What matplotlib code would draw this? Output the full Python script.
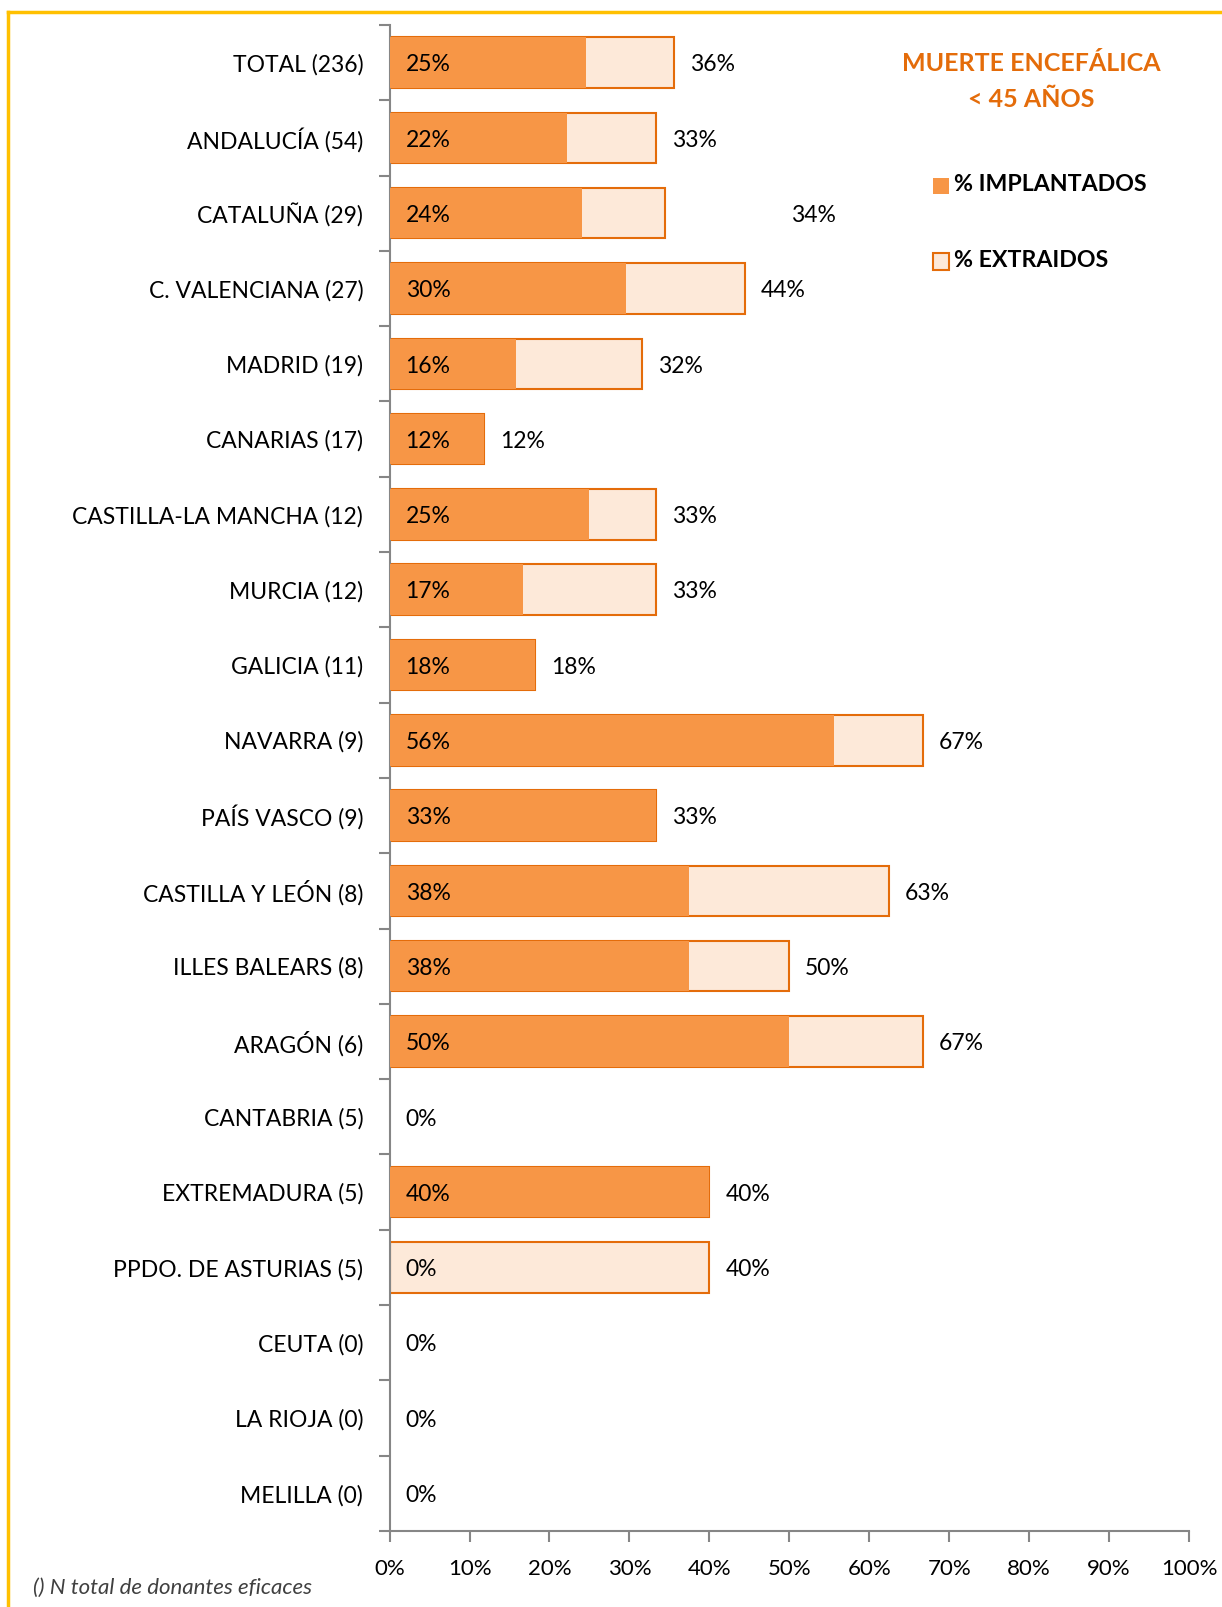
import matplotlib
matplotlib.use("Agg")
import matplotlib.pyplot as plt
import numpy as np

# datos (porcentajes)
regiones = ["TOTAL (236)", "ANDALUCÍA (54)", "CATALUÑA (29)", "C. VALENCIANA (27)",
            "MADRID (19)", "CANARIAS (17)", "CASTILLA-LA MANCHA (12)", "MURCIA (12)",
            "GALICIA (11)", "NAVARRA (9)", "PAÍS VASCO (9)", "CASTILLA Y LEÓN (8)",
            "ILLES BALEARS (8)", "ARAGÓN (6)", "CANTABRIA (5)", "EXTREMADURA (5)",
            "PPDO. DE ASTURIAS (5)", "CEUTA (0)", "LA RIOJA (0)", "MELILLA (0)"]
implantados = [24.6, 22.2, 24.1, 29.6, 15.8, 11.8, 25.0, 16.7, 18.2, 55.6,
               33.3, 37.5, 37.5, 50.0, 0, 40.0, 0, 0, 0, 0]
extraidos = [35.6, 33.3, 34.4, 44.4, 31.6, 11.8, 33.3, 33.3, 18.2, 66.7,
             33.3, 62.5, 50.0, 66.7, 0, 40.0, 40.0, 0, 0, 0]

naranja = "#F79646"
claro = "#FDE9D9"
borde = "#E46C0A"
fuente = "Lato"

plt.rcParams['font.family'] = [fuente, 'DejaVu Sans']

def pct(v):
    return "%d%%" % int(v + 0.5)

fig = plt.figure(figsize=(12.22, 16.07), dpi=100)
ax = fig.add_axes([0.3188, 0.0473, 0.6542, 0.9372])

y = np.arange(len(regiones))
lw = [1.5 if e > 0 else 0 for e in extraidos]
ax.barh(y, extraidos, height=0.67, color=claro, edgecolor=borde, linewidth=lw, zorder=2)
ax.barh(y, implantados, height=0.67, color=naranja, linewidth=0, zorder=3)

for i in range(len(regiones)):
    ax.text(2.0, y[i] + 0.03, pct(implantados[i]), va="center", ha="left",
            fontsize=16.5, zorder=4)
    if extraidos[i] > 0:
        xe = extraidos[i] + 2.0
        if i == 2:
            xe = 50.2  # etiqueta desplazada en el original
        ax.text(xe, y[i] + 0.03, pct(extraidos[i]), va="center", ha="left",
                fontsize=16.5, zorder=4)

ax.set_xlim(0, 100)
ax.set_ylim(len(regiones) - 0.5, -0.5)
ax.set_xticks(np.arange(0, 101, 10))
ax.set_xticklabels(["%d%%" % v for v in range(0, 101, 10)], fontsize=16)
ax.set_yticks(y)
ax.set_yticklabels(regiones, fontsize=16.5)
ax.set_yticks(np.arange(-0.5, len(regiones), 1), minor=True)
ax.tick_params(axis="y", which="major", length=0, pad=19)
ax.tick_params(axis="y", which="minor", length=8, color="#868686", width=1.5)
ax.tick_params(axis="x", length=8, color="#868686", width=1.5, pad=12)

for s in ["top", "right"]:
    ax.spines[s].set_visible(False)
for s in ["left", "bottom"]:
    ax.spines[s].set_color("#868686")
    ax.spines[s].set_linewidth(1.5)

# titulo y leyenda
fig.text(0.844, 0.9605, "MUERTE ENCEFÁLICA", color=borde, fontsize=18,
         fontweight="bold", ha="center", va="center")
fig.text(0.844, 0.938, "< 45 AÑOS", color=borde, fontsize=18,
         fontweight="bold", ha="center", va="center")
fig.patches.append(plt.Rectangle((0.7635, 0.879), 0.0135, 0.0105, transform=fig.transFigure,
                                 facecolor=naranja, edgecolor="none"))
fig.patches.append(plt.Rectangle((0.7635, 0.832), 0.0135, 0.0105, transform=fig.transFigure,
                                 facecolor=claro, edgecolor=borde, linewidth=1.5))
fig.text(0.781, 0.885, "% IMPLANTADOS", fontsize=16.7, fontweight="bold", ha="left", va="center")
fig.text(0.781, 0.838, "% EXTRAIDOS", fontsize=16.7, fontweight="bold", ha="left", va="center")

# nota al pie
fig.text(0.027, 0.0118, "() N total de donantes eficaces", fontsize=16, style="italic",
         color="#404040", ha="left", va="center")

# marco superior e izquierdo
fig.add_artist(plt.Line2D([0.0066, 1.0], [0.9925, 0.9925], color="#FFC000", linewidth=2.5))
fig.add_artist(plt.Line2D([0.0066, 0.0066], [0.0, 0.9925], color="#FFC000", linewidth=2.5))

fig.savefig("out.png", dpi=100)
